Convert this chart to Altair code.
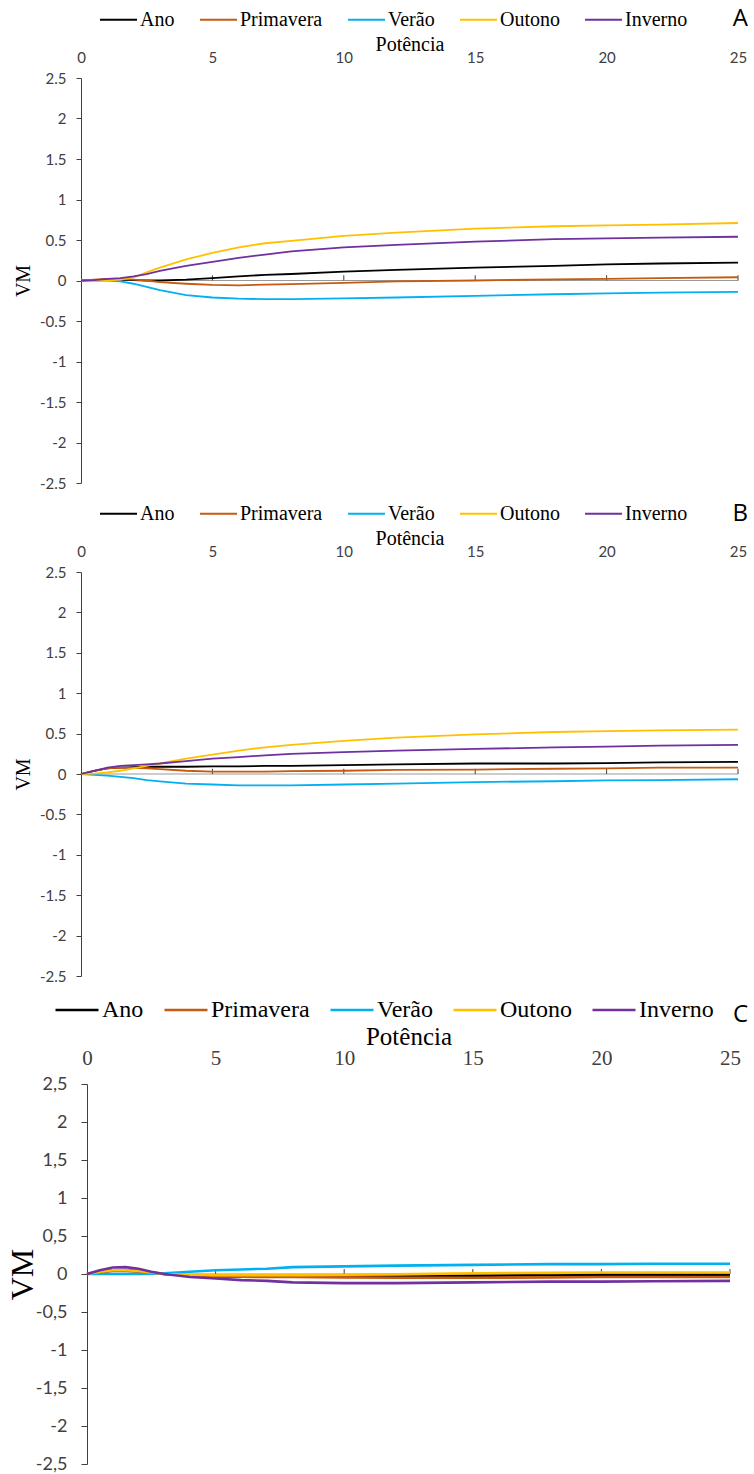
import altair as alt
import pandas as pd

# ---------------- data ----------------
X = [0, 0.5, 1, 1.5, 2, 2.5, 3, 4, 5, 6, 7, 8, 10, 12, 15, 18, 20, 22, 25]
SERIES = ["Ano", "Primavera", "Verão", "Outono", "Inverno"]
COLORS = ["#000000", "#C55A11", "#00B0F0", "#FFC000", "#7030A0"]
X_TICKS = [0, 5, 10, 15, 20, 25]
Y_TICKS = [-2.5, -2, -1.5, -1, -0.5, 0, 0.5, 1, 1.5, 2, 2.5]
PANELS = ["A", "B", "C"]

A_ANO = [0, 0.005, 0.01, 0.01, 0.005, 0.0, 0.0, 0.01, 0.03, 0.05, 0.07, 0.08, 0.11, 0.13, 0.16, 0.18, 0.20, 0.21, 0.22]
A_PRIMAVERA = [0, 0.01, 0.02, 0.02, 0.01, 0.0, -0.02, -0.04, -0.055, -0.06, -0.05, -0.045, -0.03, -0.01, 0.0, 0.015, 0.02, 0.03, 0.04]
A_VERAO = [0, 0.0, 0.0, -0.01, -0.04, -0.08, -0.12, -0.18, -0.21, -0.225, -0.23, -0.23, -0.22, -0.21, -0.19, -0.17, -0.16, -0.15, -0.14]
A_OUTONO = [0, -0.005, 0.0, 0.01, 0.04, 0.1, 0.16, 0.26, 0.34, 0.41, 0.46, 0.49, 0.55, 0.59, 0.64, 0.67, 0.68, 0.69, 0.71]
A_INVERNO = [0, 0.005, 0.02, 0.03, 0.05, 0.08, 0.12, 0.18, 0.23, 0.28, 0.32, 0.36, 0.41, 0.44, 0.48, 0.51, 0.52, 0.53, 0.54]

B_ANO = [0, 0.04, 0.07, 0.08, 0.085, 0.09, 0.09, 0.09, 0.095, 0.095, 0.1, 0.1, 0.11, 0.12, 0.13, 0.13, 0.135, 0.145, 0.15]
B_PRIMAVERA = [0, 0.04, 0.07, 0.08, 0.075, 0.07, 0.06, 0.04, 0.03, 0.03, 0.03, 0.035, 0.04, 0.05, 0.055, 0.065, 0.07, 0.08, 0.08]
B_VERAO = [0, -0.01, -0.02, -0.035, -0.05, -0.075, -0.09, -0.12, -0.13, -0.14, -0.14, -0.14, -0.13, -0.12, -0.1, -0.09, -0.08, -0.075, -0.065]
B_OUTONO = [0, 0.005, 0.02, 0.04, 0.07, 0.1, 0.13, 0.19, 0.24, 0.29, 0.33, 0.36, 0.41, 0.45, 0.49, 0.52, 0.53, 0.54, 0.55]
B_INVERNO = [0, 0.04, 0.08, 0.1, 0.11, 0.12, 0.13, 0.16, 0.19, 0.21, 0.23, 0.25, 0.27, 0.29, 0.31, 0.33, 0.34, 0.35, 0.36]

C_ANO = [0, 0.03, 0.05, 0.05, 0.04, 0.02, 0.0, -0.02, -0.03, -0.035, -0.035, -0.035, -0.035, -0.03, -0.025, -0.015, -0.01, -0.01, -0.01]
C_PRIMAVERA = [0, 0.02, 0.04, 0.04, 0.03, 0.015, 0.0, -0.02, -0.03, -0.035, -0.04, -0.04, -0.045, -0.05, -0.05, -0.045, -0.04, -0.04, -0.04]
C_VERAO = [0, 0.0, 0.0, 0.0, 0.0, 0.005, 0.01, 0.03, 0.05, 0.06, 0.07, 0.09, 0.1, 0.11, 0.12, 0.13, 0.13, 0.135, 0.135]
C_OUTONO = [0, 0.03, 0.05, 0.05, 0.04, 0.02, 0.0, -0.01, -0.015, -0.015, -0.015, -0.015, -0.01, -0.005, 0.01, 0.015, 0.02, 0.02, 0.02]
C_INVERNO = [0, 0.05, 0.085, 0.09, 0.07, 0.03, 0.0, -0.04, -0.06, -0.08, -0.09, -0.11, -0.12, -0.12, -0.11, -0.1, -0.1, -0.095, -0.09]

PANEL_VALUES = {
    "A": [A_ANO, A_PRIMAVERA, A_VERAO, A_OUTONO, A_INVERNO],
    "B": [B_ANO, B_PRIMAVERA, B_VERAO, B_OUTONO, B_INVERNO],
    "C": [C_ANO, C_PRIMAVERA, C_VERAO, C_OUTONO, C_INVERNO],
}

LEXPR_DOT = "datum.value < 0 ? '-' + format(-datum.value, '~g') : format(datum.value, '~g')"
LEXPR_COMMA = "replace(" + LEXPR_DOT + ", '.', ',')"

STYLE_AB = dict(x0=0, w=657, h=405, yr=None, xfont="Lato", xfs=15, xlp=13, tfs=20, xtp=-4,
                lfs=20, ss=1369, cp=21, lx=18, ly=-78, lsw=2,
                lettersize=24, ldx=10, ldy=-59, sw=1.8,
                yfs=15, ts=5, ylp=10, vmfs=20, ytp=6, yoff=0, lexpr=LEXPR_DOT)
STYLE_B = dict(STYLE_AB, h=423, yr=[404, 0], ldy=-58)
STYLE_C = dict(x0=6, w=649, h=380, yr=None, xfont="Liberation Serif", xfs=21, xlp=16, tfs=25, xtp=-2,
               lfs=24, ss=1849, cp=15, lx=-27, ly=-97, lsw=2.5,
               lettersize=24, ldx=18, ldy=-69, sw=2.6,
               yfs=18, ts=6, ylp=14, vmfs=32, ytp=-4, yoff=-6, lexpr=LEXPR_COMMA)


def long_df(values):
    rows = []
    for k, (name, vals) in enumerate(zip(SERIES, values)):
        for x, v in zip(X, vals):
            rows.append({"x": x, "VM": v, "serie": name, "k": k})
    return pd.DataFrame(rows)


def panel(letter, st):
    df = long_df(PANEL_VALUES[letter])
    xscale = alt.Scale(domain=[0, 25], nice=False, zero=False, range=[st["x0"], st["w"]])
    if st["yr"] is None:
        yscale = alt.Scale(domain=[-2.5, 2.5], nice=False)
    else:
        yscale = alt.Scale(domain=[-2.5, 2.5], nice=False, range=st["yr"])
    xaxis = alt.Axis(orient="top", values=X_TICKS, format="d", title="Potência",
                     domain=False, ticks=False, tickSize=0, grid=False,
                     labelFont=st["xfont"], labelFontSize=st["xfs"], labelColor="#404040",
                     labelPadding=st["xlp"], labelFlush=False, labelOverlap=False,
                     titleFont="Liberation Serif", titleFontSize=st["tfs"],
                     titleFontWeight="normal", titleColor="#000000", titlePadding=st["xtp"])
    yaxis = alt.Axis(values=Y_TICKS, title="VM", labelExpr=st["lexpr"], grid=False,
                     domainColor="#404040", tickColor="#404040", tickSize=st["ts"],
                     labelFont="Lato", labelFontSize=st["yfs"], labelColor="#404040",
                     labelPadding=st["ylp"], titleFont="Liberation Serif",
                     titleFontSize=st["vmfs"], titleFontWeight="normal",
                     titleColor="#000000", titlePadding=st["ytp"], offset=st["yoff"])
    x_enc = alt.X("x:Q", scale=xscale, axis=xaxis)
    y_enc = alt.Y("VM:Q", scale=yscale, axis=yaxis)

    zero = alt.Chart(pd.DataFrame({"z": [0]})).mark_rule(color="#999999", strokeWidth=1).encode(
        x=alt.XDatum(0, scale=xscale, axis=xaxis),
        x2=alt.datum(25),
        y=alt.YDatum(0, scale=yscale, axis=yaxis),
    )
    ticks = alt.Chart(pd.DataFrame({"x": X_TICKS[1:]})).mark_rule(color="#404040", strokeWidth=1).encode(
        x=x_enc,
        y=alt.YDatum(0, scale=yscale, axis=yaxis),
        y2=alt.datum(0.065),
    )
    legend = alt.Legend(orient="none", legendX=st["lx"], legendY=st["ly"], direction="horizontal",
                        title=None, symbolType="stroke", symbolSize=st["ss"],
                        symbolStrokeWidth=st["lsw"], labelFont="Liberation Serif",
                        labelFontSize=st["lfs"], labelColor="#000000", labelOffset=2,
                        columnPadding=st["cp"], labelLimit=0, padding=0)
    lines = alt.Chart(df).mark_line(strokeWidth=st["sw"]).encode(
        x=x_enc,
        y=y_enc,
        color=alt.Color("serie:N", scale=alt.Scale(domain=SERIES, range=COLORS), legend=legend),
        order=alt.Order("x:Q"),
    )
    text = alt.Chart(pd.DataFrame({"t": [letter]})).mark_text(
        align="right", baseline="middle", font="Open Sans", fontSize=st["lettersize"],
        color="#000000", dx=st["ldx"], dy=st["ldy"]
    ).encode(
        x=alt.XDatum(25, scale=xscale, axis=xaxis),
        y=alt.YDatum(2.5, scale=yscale, axis=yaxis),
        text="t:N",
    )
    return alt.layer(zero, ticks, lines, text).properties(width=st["w"], height=st["h"])


pa = panel("A", STYLE_AB)
pb = panel("B", STYLE_B)
pc = panel("C", STYLE_C)

chart = alt.vconcat(pa, pb, pc, spacing=89, bounds="flush").resolve_scale(
    x="independent", y="independent", color="independent").resolve_legend(
    color="independent").configure_view(stroke=None).properties(
    padding={"left": 6, "top": 0, "right": 0, "bottom": 0}, background="white")

chart.save("out.html", embed_options={"renderer": "svg", "actions": False})
